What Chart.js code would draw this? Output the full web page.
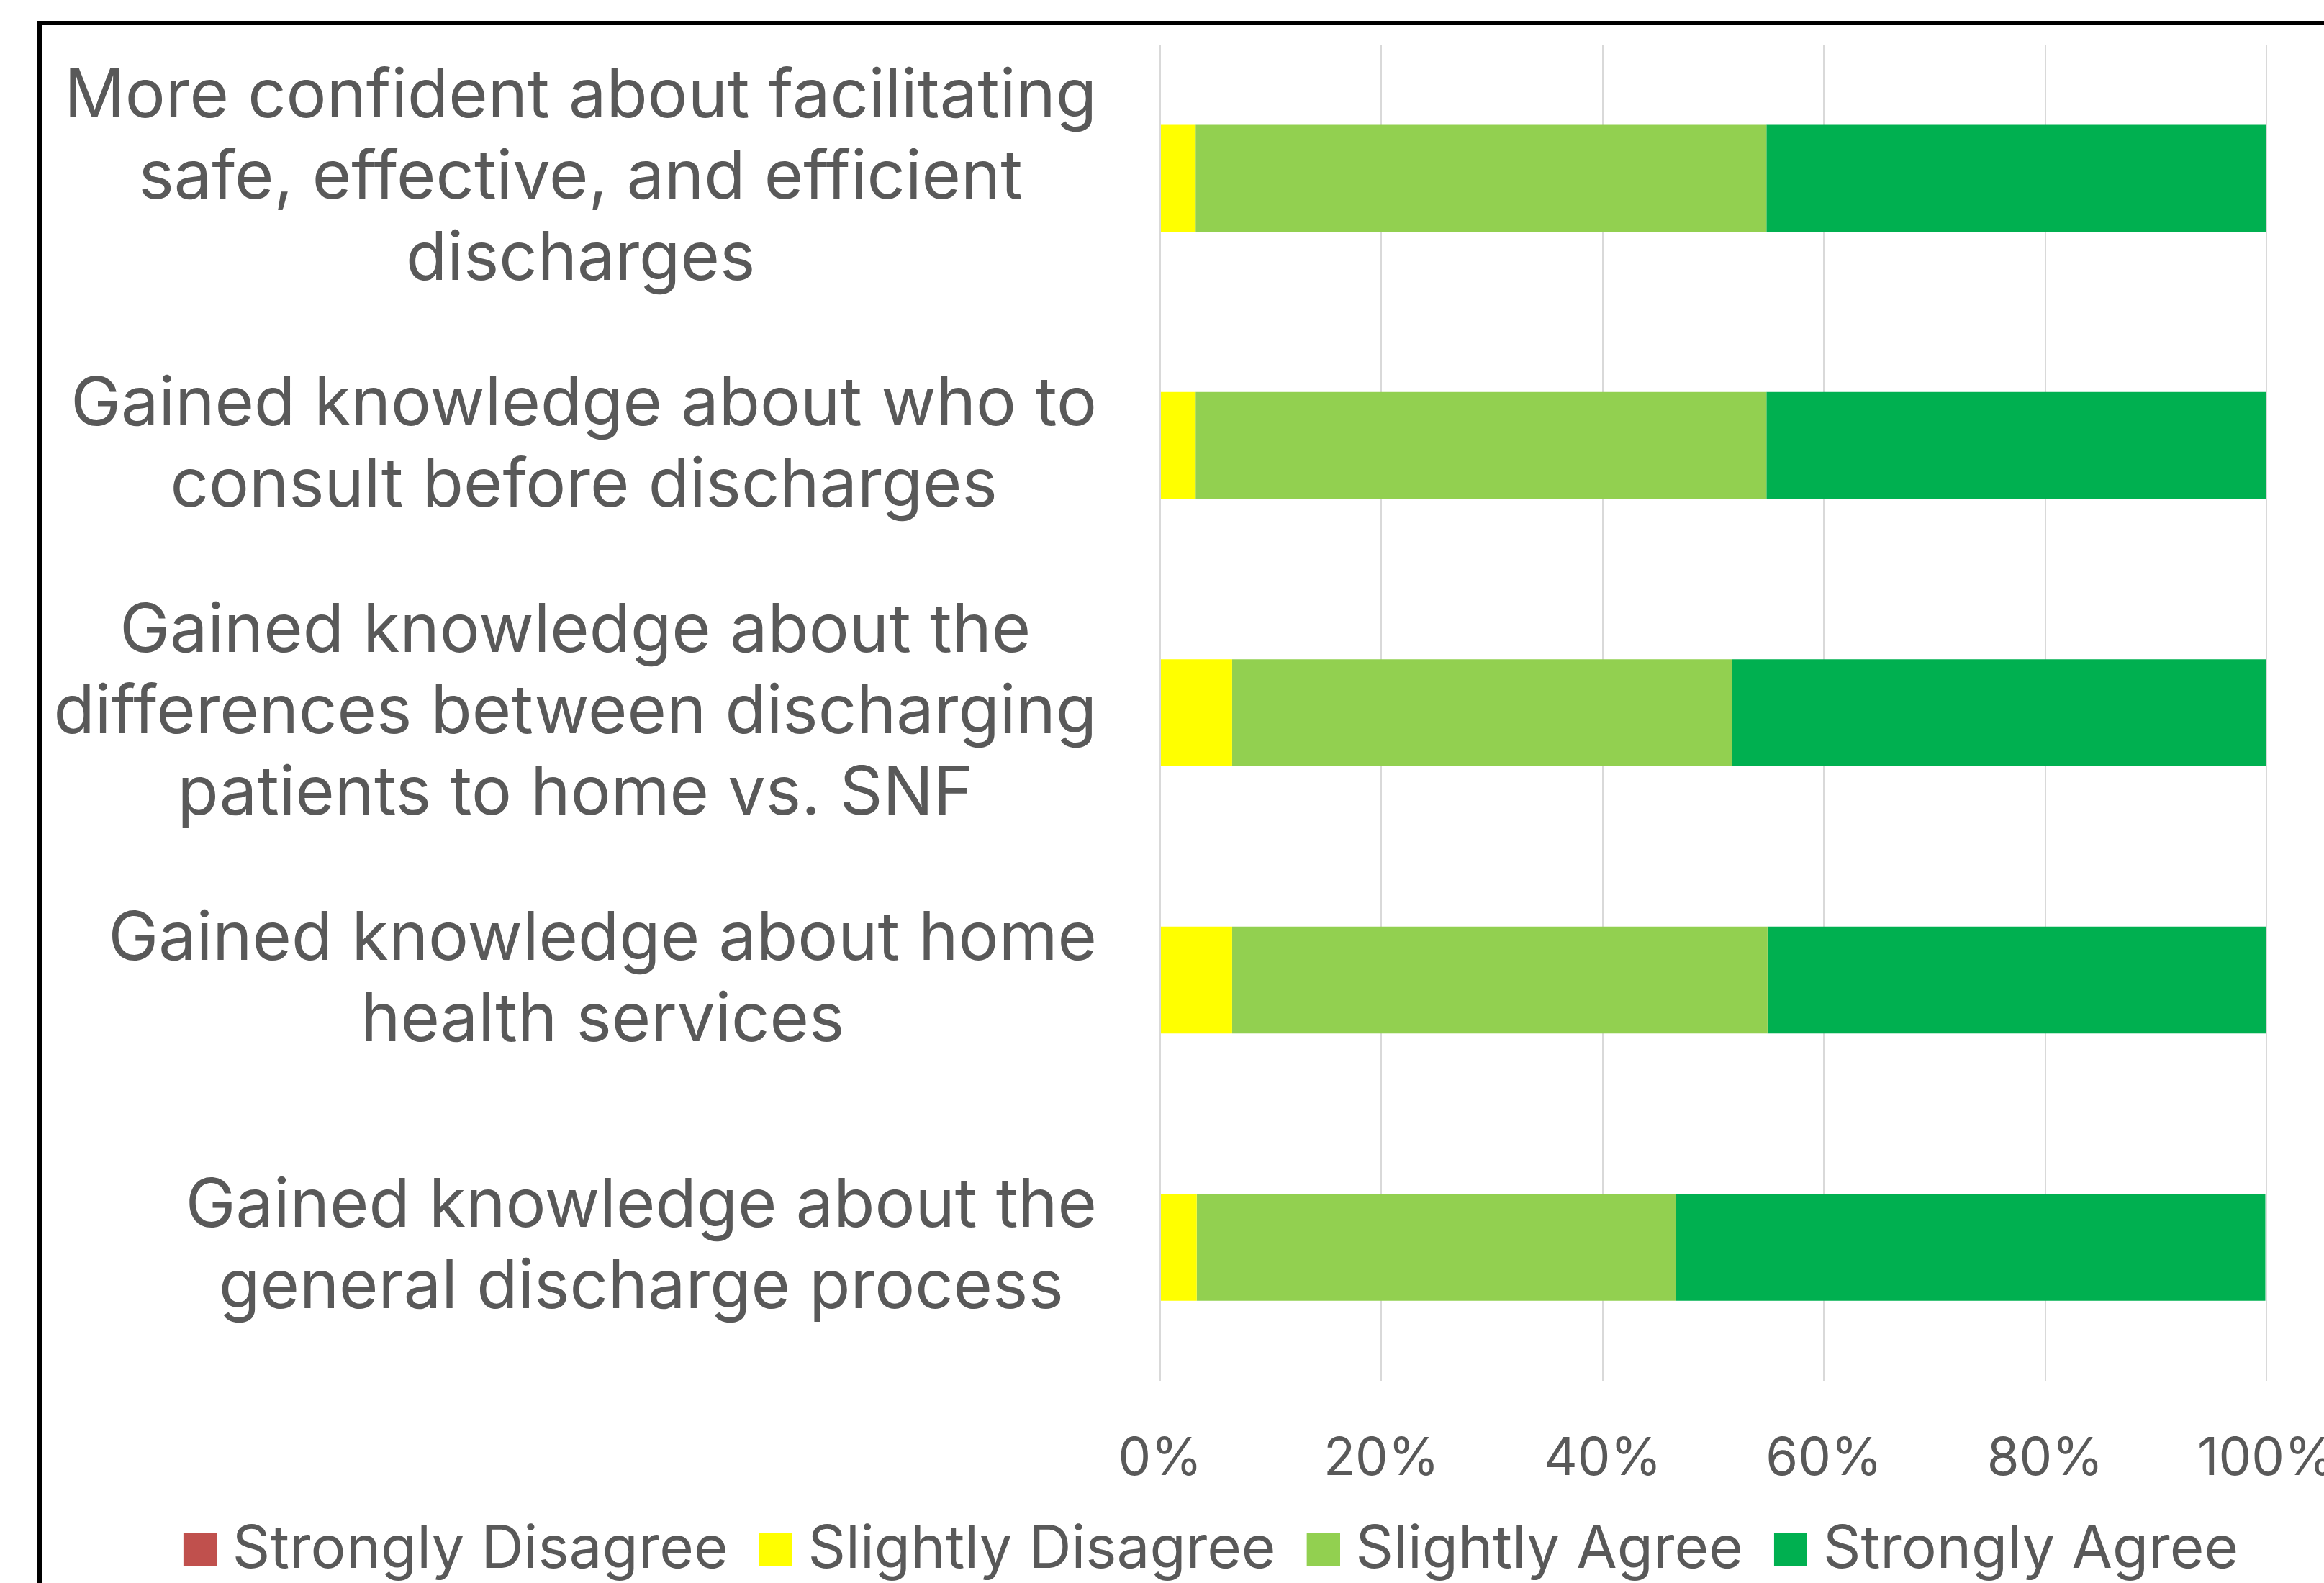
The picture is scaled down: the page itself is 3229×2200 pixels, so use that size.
<!DOCTYPE html>
<html>
<head>
<meta charset="utf-8">
<script src="https://cdn.jsdelivr.net/npm/chart.js@4.4.1/dist/chart.umd.min.js"></script>
<style>
  html, body { margin: 0; padding: 0; background: #fff; width: 3229px; height: 2200px; overflow: hidden; }
  #wrap { position: absolute; left: 55px; top: 32px; }
  #frame { position: absolute; left: 52px; top: 29px; width: 3256px; height: 2200px; border: 6px solid #000; box-sizing: border-box; pointer-events: none; z-index: 2; }
</style>
</head>
<body>
<div id="wrap"><canvas id="c" width="3256" height="2200"></canvas></div>
<div id="frame"></div>
<script>
const categories = [
  ["More confident about facilitating", "safe, effective, and efficient", "discharges"],
  ["Gained knowledge about who to", "consult before discharges"],
  ["Gained knowledge about the", "differences between discharging", "patients to home vs. SNF"],
  ["Gained knowledge about home", "health services"],
  ["Gained knowledge about the", "general discharge process"]
];
const seriesNames = ["Strongly Disagree", "Slightly Disagree", "Slightly Agree", "Strongly Agree"];
const seriesColors = ["#C0504D", "#FFFF00", "#92D050", "#00B050"];
const stronglyDisagree = [0, 0, 0, 0, 0];
const slightlyDisagree = [3.2, 3.2, 6.5, 6.5, 3.3];
const slightlyAgree = [51.6, 51.6, 45.2, 48.4, 43.3];
const stronglyAgree = [45.2, 45.2, 48.4, 45.2, 53.3];
const xTicks = [0, 20, 40, 60, 80, 100];

const FONT = "Inter";
const TEXT = "#595959";
const mctx = document.createElement('canvas').getContext('2d');
function fitSize(text, targetW) {
  mctx.font = "100px " + FONT;
  return 100 * targetW / mctx.measureText(text).width;
}
const labelSize = fitSize("More confident about facilitating", 1435);
const tickSize = fitSize("20%", 161);
const legendSize = fitSize("Strongly Disagree", 689);

// legend swatch: square drawn at the right part of the image so it sits closer to its text
const BOX = 46, SHIFT = 19;
function swatch(color) {
  const c = document.createElement('canvas');
  c.width = BOX + 2 * SHIFT; c.height = BOX;
  const g = c.getContext('2d');
  g.fillStyle = color;
  g.fillRect(2 * SHIFT, 0, BOX, BOX);
  return c;
}
const swatches = seriesColors.map(swatch);

const labelPlugin = {
  id: 'catLabels',
  afterLayout(chart) {
    const lg = chart.legend;
    if (lg) { lg.left = 0; lg.right = 3236; lg.width = 3236; }
  },
  afterDraw(chart) {
    const ys = chart.scales.y;
    const ctx = chart.ctx;
    ctx.save();
    ctx.font = labelSize + "px " + FONT;
    ctx.fillStyle = TEXT;
    ctx.textAlign = 'center';
    ctx.textBaseline = 'middle';
    const lineH = 113;
    const rightEdge = 1469;
    categories.forEach((lines, i) => {
      const cy = ys.getPixelForValue(i);
      const bw = Math.max(...lines.map(l => ctx.measureText(l).width));
      const cx = rightEdge - bw / 2;
      const y0 = cy - (lines.length - 1) / 2 * lineH;
      lines.forEach((l, k) => ctx.fillText(l, cx, y0 + k * lineH));
    });
    ctx.restore();
  }
};

new Chart(document.getElementById('c'), {
  type: 'bar',
  data: {
    labels: categories,
    datasets: [
      { label: seriesNames[0], data: stronglyDisagree, backgroundColor: seriesColors[0] },
      { label: seriesNames[1], data: slightlyDisagree, backgroundColor: seriesColors[1] },
      { label: seriesNames[2], data: slightlyAgree, backgroundColor: seriesColors[2] },
      { label: seriesNames[3], data: stronglyAgree, backgroundColor: seriesColors[3] }
    ]
  },
  options: {
    indexAxis: 'y',
    responsive: false,
    animation: false,
    devicePixelRatio: 1,
    events: [],
    layout: { padding: { top: 30, right: 160, bottom: 27, left: 0 } },
    datasets: { bar: { categoryPercentage: 0.8, barPercentage: 0.5, borderWidth: 0 } },
    scales: {
      x: {
        stacked: true,
        min: 0, max: 100,
        afterBuildTicks(scale) { scale.ticks = xTicks.map(v => ({ value: v })); },
        ticks: {
          callback: v => v + '%',
          color: TEXT,
          font: { family: FONT, size: tickSize },
          padding: 66,
          maxRotation: 0
        },
        grid: { color: '#D9D9D9', lineWidth: 2, drawTicks: false },
        border: { display: false },
        afterFit(scale) { scale.height = 170; }
      },
      y: {
        stacked: true,
        ticks: { display: false },
        grid: { display: false },
        border: { display: false },
        afterFit(scale) { scale.width = 1557; }
      }
    },
    plugins: {
      legend: {
        position: 'bottom',
        labels: {
          color: TEXT,
          font: { family: FONT, size: legendSize },
          usePointStyle: true,
          boxWidth: BOX,
          boxHeight: BOX,
          padding: 24,
          generateLabels(chart) {
            const items = Chart.defaults.plugins.legend.labels.generateLabels(chart);
            items.forEach(it => { it.pointStyle = swatches[it.datasetIndex]; });
            return items;
          }
        }
      },
      tooltip: { enabled: false }
    }
  },
  plugins: [labelPlugin]
});
</script>
</body>
</html>
